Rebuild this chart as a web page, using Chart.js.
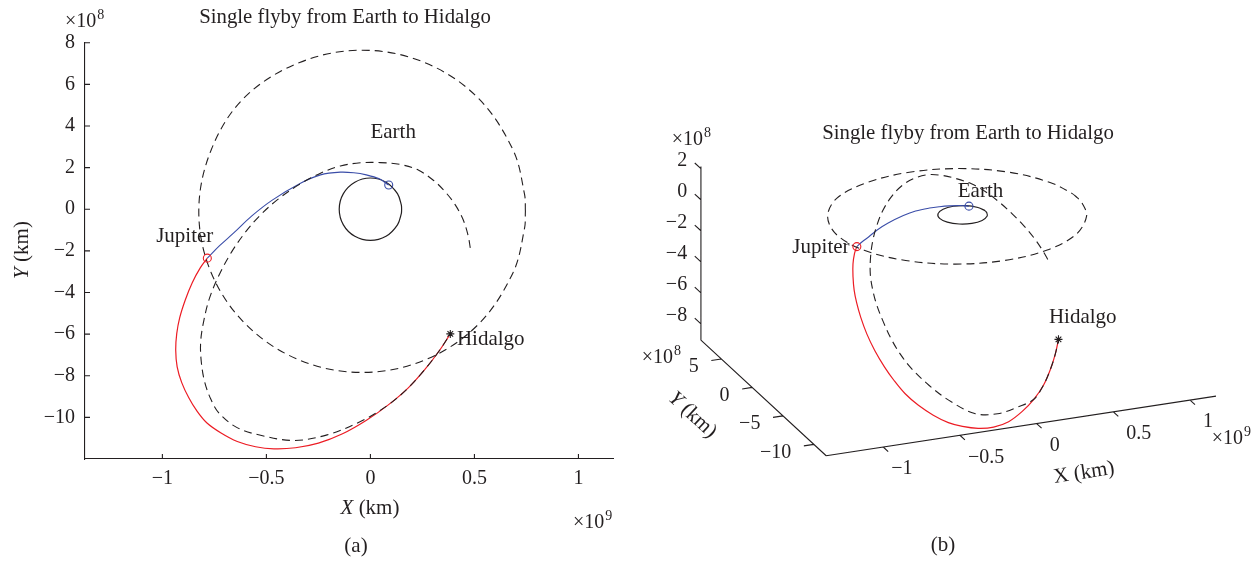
<!DOCTYPE html>
<html>
<head>
<meta charset="utf-8">
<script src="https://cdn.jsdelivr.net/npm/chart.js@4.4.0/dist/chart.umd.min.js"></script>
<style>
  html, body { margin: 0; padding: 0; background: #fff; }
  #wrap { position: relative; width: 1258px; height: 561px; }
  #boxA { position: absolute; left: 0; top: 0; width: 620px; height: 561px; }
  #boxB { position: absolute; left: 620px; top: 0; width: 638px; height: 561px; }
</style>
</head>
<body>
<div id="wrap">
  <div id="boxA"><canvas id="planar"></canvas></div>
  <div id="boxB"><canvas id="spatial"></canvas></div>
</div>
<script>
// x in 1e9 km, y and z in 1e8 km
const jupiterX = [0.745, 0.741, 0.685, 0.515, 0.26, -0.04, -0.34, -0.605, -0.765, -0.825, -0.765, -0.595, -0.34, -0.04, 0.26, 0.515, 0.685, 0.741, 0.745];
const jupiterY = [-0.1, 0.71, 2.86, 5.37, 7.05, 7.64, 7.05, 5.37, 2.86, -0.1, -3.06, -5.57, -7.25, -7.84, -7.25, -5.57, -3.06, -0.91, -0.1];
const jupiterZ = [0, 0, 0, 0, 0, 0, 0, 0, 0, 0, 0, 0, 0, 0, 0, 0, 0, 0, 0];

const earthX = [0.15, 0.1485, 0.13, 0.075, 0, -0.075, -0.13, -0.15, -0.13, -0.075, 0, 0.075, 0.13, 0.1485, 0.15];
const earthY = [0, 0.21, 0.75, 1.3, 1.5, 1.3, 0.75, 0, -0.75, -1.3, -1.5, -1.3, -0.75, -0.21, 0];
const earthZ = [0, 0, 0, 0, 0, 0, 0, 0, 0, 0, 0, 0, 0, 0, 0];

// Earth -> Jupiter leg (blue)
const legEJX = [0.088, 0.04, -0.02, -0.08, -0.144, -0.24, -0.336, -0.47, -0.57, -0.657, -0.725, -0.784];
const legEJY = [1.16, 1.47, 1.65, 1.75, 1.78, 1.65, 1.25, 0.45, -0.32, -1.14, -1.75, -2.35];
const legEJZ = [0, 0, 0, 0, 0, 0, 0, 0, 0, 0, 0, 0];

// Jupiter -> Hidalgo leg (red)
const legJHX = [-0.784, -0.818, -0.857, -0.89, -0.917, -0.931, -0.936, -0.929, -0.907, -0.873, -0.835, -0.787, -0.72, -0.64, -0.552, -0.464, -0.36, -0.25, -0.134, -0.019, 0.086, 0.182, 0.264, 0.331, 0.384];
const legJHY = [-2.35, -2.82, -3.54, -4.36, -5.22, -5.98, -6.75, -7.57, -8.33, -9.06, -9.68, -10.26, -10.74, -11.16, -11.41, -11.51, -11.46, -11.24, -10.79, -10.14, -9.40, -8.58, -7.67, -6.80, -5.99];
const legJHZ = [0, -0.21, -0.58, -1.01, -1.55, -2.08, -2.70, -3.49, -4.33, -5.17, -5.88, -6.58, -7.25, -7.85, -8.37, -8.71, -9.01, -9.18, -9.17, -8.92, -8.57, -8.11, -7.54, -6.97, -6.41];

// Hidalgo orbit during the mission
const hidalgoX = [0.48, 0.470, 0.446, 0.408, 0.360, 0.304, 0.230, 0.144, 0.048, -0.048, -0.144, -0.24, -0.345, -0.448, -0.533, -0.600, -0.667, -0.725, -0.773, -0.801, -0.816, -0.813, -0.797, -0.768, -0.729, -0.643, -0.528, -0.368, -0.208, -0.048, 0.086, 0.182, 0.264, 0.331, 0.384];
const hidalgoY = [-1.86, -1.28, -0.51, 0.21, 0.83, 1.38, 1.88, 2.15, 2.24, 2.23, 2.08, 1.73, 1.17, 0.45, -0.32, -1.09, -2.05, -3.11, -4.26, -5.36, -6.37, -7.33, -8.29, -9.11, -9.78, -10.48, -10.86, -11.11, -10.84, -10.20, -9.40, -8.58, -7.67, -6.80, -5.99];
const hidalgoZ = [-2.92, -2.54, -1.99, -1.40, -0.82, -0.23, 0.42, 0.99, 1.44, 1.80, 2.04, 2.10, 2.0, 1.65, 1.2, 0.71, 0.15, -0.47, -1.10, -1.69, -2.24, -2.95, -3.79, -4.54, -5.19, -6.15, -7.16, -8.17, -8.53, -8.56, -8.57, -8.11, -7.54, -6.97, -6.41];

const bodyNames = ['Earth', 'Jupiter', 'Hidalgo'];
const bodyX = [0.088, -0.784, 0.384];
const bodyY = [1.16, -2.35, -5.99];
const bodyZ = [0, 0, -6.41];
const labelX2d = [0.0, -1.03, 0.416];
const labelY2d = [3.67, -1.32, -6.27];
const labelX3d = [0.113, -1.149, 0.4625];
const labelY3d = [3.6, -0.976, -2.49];
const labelZ3d = [0, 0, -6.41];

const xTicks2d = [-1, -0.5, 0, 0.5, 1];
const yTicks2d = [8, 6, 4, 2, 0, -2, -4, -6, -8, -10];
const xTicks3d = [-1, -0.5, 0, 0.5, 1];
const yTicks3d = [5, 0, -5, -10];
const zTicks3d = [2, 0, -2, -4, -6, -8];
const xLim = [-1.372, 1.169];
const yLim2d = [-12, 8];
const yLim3d = [-12, 8.3];
const zLim3d = [-9.05, 2.15];

const INK = '#231f20';
const BLUE = '#3a4da8';
const RED = '#ec1c24';
const SERIF = '"Liberation Serif", "Times New Roman", serif';
const TICK = 20, LABEL = 21, TITLE = 20.8;
const DASH = [8, 5];

Chart.defaults.font.family = SERIF;
Chart.defaults.color = INK;

// orthographic view of panel (b), in canvas pixels
const VIEW = { ox: 343, oy: 213.6, ex: [155.9, -23.9], ey: [-6.27, -5.80], ez: [0, -15.8] };

function project(x, y, z) {
  return {
    x: VIEW.ox + x * VIEW.ex[0] + y * VIEW.ey[0] + z * VIEW.ez[0],
    y: VIEW.oy + x * VIEW.ex[1] + y * VIEW.ey[1] + z * VIEW.ez[1]
  };
}

const pts2 = (xs, ys) => xs.map((x, i) => ({ x: x, y: ys[i] }));
const pts3 = (xs, ys, zs) => xs.map((x, i) => project(x, ys[i], zs[i]));
const fmt = v => (v < 0 ? '\u2212' + Math.abs(v) : String(v));

function curve(data, color, width, dash, order) {
  return { data: data, showLine: true, borderColor: color, borderWidth: width, borderDash: dash || [],
           pointRadius: 0, tension: 0.35, fill: false, order: order };
}
function marker(data, color, style) {
  return { data: data, showLine: false, pointStyle: style, pointRadius: 4, pointBorderWidth: 1.1,
           pointBorderColor: color, pointBackgroundColor: 'rgba(0,0,0,0)', order: 0 };
}

function buildSets(toPts) {
  return [
    marker(toPts([bodyX[0]], [bodyY[0]], [bodyZ[0]]), BLUE, 'circle'),
    marker(toPts([bodyX[1]], [bodyY[1]], [bodyZ[1]]), RED, 'circle'),
    marker(toPts([bodyX[2]], [bodyY[2]], [bodyZ[2]]), INK, 'star'),
    curve(toPts(hidalgoX, hidalgoY, hidalgoZ), INK, 1.1, DASH, 1),
    curve(toPts(jupiterX, jupiterY, jupiterZ), INK, 1.1, DASH, 1),
    curve(toPts(legJHX, legJHY, legJHZ), RED, 1.2, null, 2),
    curve(toPts(legEJX, legEJY, legEJZ), BLUE, 1.1, null, 2),
    curve(toPts(earthX, earthY, earthZ), INK, 1.2, null, 3)
  ];
}

function fontOf(size, italic) {
  return (italic ? 'italic ' : '') + size + 'px ' + SERIF;
}

// parts: [[text, italic], ...]
function drawRich(ctx, parts, x, y, opts) {
  opts = opts || {};
  const size = opts.size || LABEL;
  ctx.save();
  ctx.translate(x, y);
  if (opts.angle) ctx.rotate(opts.angle);
  ctx.fillStyle = INK;
  ctx.textBaseline = opts.baseline || 'middle';
  ctx.textAlign = 'left';
  let total = 0;
  const widths = parts.map(p => {
    ctx.font = fontOf(size, p[1]);
    const w = ctx.measureText(p[0]).width;
    total += w;
    return w;
  });
  let cx = opts.align === 'left' ? 0 : opts.align === 'right' ? -total : -total / 2;
  parts.forEach((p, i) => {
    ctx.font = fontOf(size, p[1]);
    ctx.fillText(p[0], cx, 0);
    cx += widths[i];
  });
  ctx.restore();
}

function drawPower(ctx, exp, x, baseline) {
  ctx.save();
  ctx.font = fontOf(TICK);
  const w = ctx.measureText('\u00d710').width;
  ctx.restore();
  drawRich(ctx, [['\u00d710']], x, baseline, { align: 'left', baseline: 'alphabetic', size: TICK });
  drawRich(ctx, [[exp]], x + w + 1, baseline - 8, { align: 'left', baseline: 'alphabetic', size: 14 });
}

const planarDecor = {
  id: 'planarDecor',
  afterDraw(chart) {
    const { ctx, chartArea: a, scales: { x, y } } = chart;
    ctx.save();
    ctx.strokeStyle = INK;
    ctx.lineWidth = 1.1;
    ctx.beginPath();
    xTicks2d.forEach(v => {
      const px = x.getPixelForValue(v);
      ctx.moveTo(px, a.bottom);
      ctx.lineTo(px, a.bottom - 5);
    });
    yTicks2d.forEach(v => {
      const py = y.getPixelForValue(v);
      ctx.moveTo(a.left, py);
      ctx.lineTo(a.left + 5, py);
    });
    ctx.stroke();
    ctx.restore();

    drawRich(ctx, [['Single flyby from Earth to Hidalgo']], 345, 23, { baseline: 'alphabetic', size: TITLE });
    drawPower(ctx, '8', 65, 27);
    drawPower(ctx, '9', 573, 528);
    drawRich(ctx, [['Y', true], [' (km)']], 22, 250, { angle: -Math.PI / 2 });
    drawRich(ctx, [['X', true], [' (km)']], 370, 508);
    drawRich(ctx, [['(a)']], 356, 546);
    bodyNames.forEach((n, i) => {
      drawRich(ctx, [[n]], x.getPixelForValue(labelX2d[i]), y.getPixelForValue(labelY2d[i]), { align: 'left' });
    });
  }
};

const spatialDecor = {
  id: 'spatialDecor',
  beforeDatasetsDraw(chart) {
    const { ctx, scales: { x, y } } = chart;
    const px = p => [x.getPixelForValue(p.x), y.getPixelForValue(p.y)];
    const seg = (p, q) => { const a = px(p), b = px(q); ctx.moveTo(a[0], a[1]); ctx.lineTo(b[0], b[1]); };
    ctx.save();
    ctx.strokeStyle = INK;
    ctx.lineWidth = 1.1;
    ctx.beginPath();
    seg(project(xLim[0], yLim3d[0], zLim3d[0]), project(xLim[1], yLim3d[0], zLim3d[0]));
    seg(project(xLim[0], yLim3d[0], zLim3d[0]), project(xLim[0], yLim3d[1], zLim3d[0]));
    seg(project(xLim[0], yLim3d[1], zLim3d[0]), project(xLim[0], yLim3d[1], zLim3d[1]));
    xTicks3d.forEach(v => seg(project(v, yLim3d[0], zLim3d[0]), project(v, yLim3d[0] - 0.8, zLim3d[0])));
    yTicks3d.forEach(v => seg(project(xLim[0], v, zLim3d[0]), project(xLim[0] - 0.065, v, zLim3d[0])));
    zTicks3d.forEach(v => seg(project(xLim[0], yLim3d[1], v), project(xLim[0], yLim3d[1] + 1.0, v)));
    ctx.stroke();
    ctx.restore();

    xTicks3d.forEach(v => {
      const a = px(project(v, yLim3d[0], zLim3d[0]));
      drawRich(ctx, [[fmt(v)]], a[0] + (v < 0 ? 8 : 13), a[1] + 22, { align: 'left', size: TICK });
    });
    yTicks3d.forEach(v => {
      const a = px(project(xLim[0], v, zLim3d[0]));
      drawRich(ctx, [[fmt(v)]], a[0] - 22.6, a[1] + 8, { align: 'right', size: TICK });
    });
    zTicks3d.forEach(v => {
      const a = px(project(xLim[0], yLim3d[1], v));
      drawRich(ctx, [[fmt(v)]], a[0] - 13.8, a[1] - 8.3, { align: 'right', size: TICK });
    });
  },
  afterDraw(chart) {
    const { ctx, scales: { x, y } } = chart;
    drawRich(ctx, [['Single flyby from Earth to Hidalgo']], 348, 139, { baseline: 'alphabetic', size: TITLE });
    drawPower(ctx, '8', 51.7, 145);
    drawPower(ctx, '8', 21.7, 363);
    drawPower(ctx, '9', 591.7, 444);
    drawRich(ctx, [['Y', true], [' (km)']], 72.5, 415, { angle: Math.atan2(-VIEW.ey[1], -VIEW.ey[0]) });
    drawRich(ctx, [['X (km)']], 464, 473, { angle: Math.atan2(VIEW.ex[1], VIEW.ex[0]) });
    drawRich(ctx, [['(b)']], 323, 545);
    bodyNames.forEach((n, i) => {
      const p = project(labelX3d[i], labelY3d[i], labelZ3d[i]);
      drawRich(ctx, [[n]], x.getPixelForValue(p.x), y.getPixelForValue(p.y), { align: 'left' });
    });
  }
};

new Chart(document.getElementById('planar'), {
  type: 'scatter',
  data: { datasets: buildSets((xs, ys) => pts2(xs, ys)) },
  options: {
    responsive: true,
    maintainAspectRatio: false,
    animation: false,
    events: [],
    layout: { padding: { top: 42.7, right: 6.4, bottom: 0, left: 0 } },
    plugins: { legend: { display: false }, tooltip: { enabled: false } },
    scales: {
      x: {
        type: 'linear', min: xLim[0], max: xLim[1],
        grid: { display: false, drawTicks: false },
        border: { display: true, color: INK, width: 1.1 },
        ticks: { color: INK, font: { size: TICK }, padding: 8, maxRotation: 0, autoSkip: false, callback: fmt },
        afterBuildTicks: s => { s.ticks = xTicks2d.map(v => ({ value: v })); },
        afterFit: s => { s.height = 102; }
      },
      y: {
        type: 'linear', min: yLim2d[0], max: yLim2d[1],
        grid: { display: false, drawTicks: false },
        border: { display: true, color: INK, width: 1.1 },
        ticks: { color: INK, font: { size: TICK }, padding: 10, autoSkip: false, callback: fmt },
        afterBuildTicks: s => { s.ticks = yTicks2d.map(v => ({ value: v })); },
        afterFit: s => { s.width = 85; }
      }
    }
  },
  plugins: [planarDecor]
});

new Chart(document.getElementById('spatial'), {
  type: 'scatter',
  data: { datasets: buildSets(pts3) },
  options: {
    responsive: true,
    maintainAspectRatio: false,
    animation: false,
    events: [],
    layout: { padding: 0 },
    plugins: { legend: { display: false }, tooltip: { enabled: false } },
    scales: {
      x: { type: 'linear', min: 0, max: 638, display: false },
      y: { type: 'linear', min: 0, max: 561, reverse: true, display: false }
    }
  },
  plugins: [spatialDecor]
});
</script>
</body>
</html>
